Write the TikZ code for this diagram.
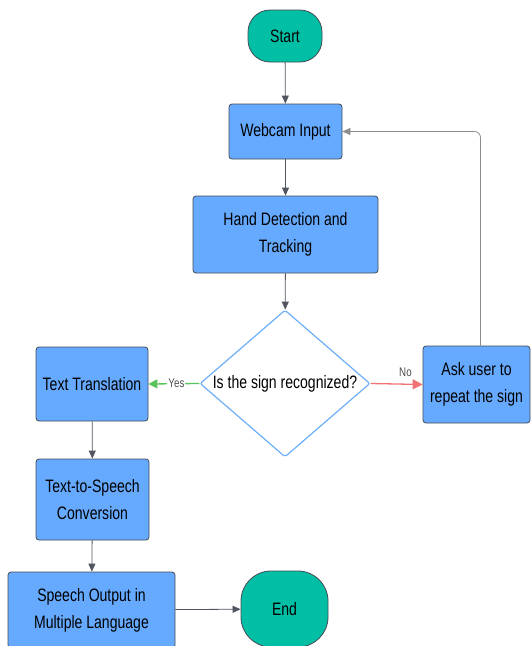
\documentclass[tikz,border=0pt]{standalone}
\usepackage{fontspec}
\setmainfont[FakeStretch=0.78]{Liberation Sans}
\usetikzlibrary{shapes.geometric,arrows.meta}
\definecolor{boxblue}{RGB}{102,170,255}
\definecolor{tealc}{RGB}{0,191,165}
\definecolor{dborder}{RGB}{70,75,85}
\definecolor{lblue}{RGB}{110,175,250}
\definecolor{ygreen}{RGB}{90,195,90}
\definecolor{nred}{RGB}{240,115,115}
\definecolor{conn}{RGB}{80,85,95}
\tikzset{
  x=1pt,y=-1pt,
  proc/.style={draw=dborder,fill=boxblue,rounded corners=3pt,line width=0.8pt,align=center,inner sep=0pt,font=\fontsize{18}{27}\selectfont},
  term/.style={draw=dborder,fill=tealc,rounded corners=22pt,line width=0.8pt,inner sep=0pt,font=\fontsize{18}{22}\selectfont},
  arr/.style={draw=conn,line width=0.8pt,-{Triangle[length=8pt,width=7pt]}},
  lbl/.style={font=\fontsize{12.5}{14}\selectfont,text=black!70}
}
\begin{document}
\begin{tikzpicture}
\useasboundingbox (0,0) rectangle (532,646);
\node[term,minimum width=74pt,minimum height=52pt] (start) at (285,36) {Start};
\node[proc,minimum width=113pt,minimum height=55pt] (web) at (285.5,131.5) {Webcam Input};
\node[proc,minimum width=185pt,minimum height=77pt] (hand) at (285.5,234.5) {Hand Detection and\\Tracking};
\node[draw=lblue,fill=white,line width=1.2pt,diamond,minimum width=170pt,minimum height=147pt,inner sep=0pt,rounded corners=2pt] (dec) at (285,383.5) {};
\node[font=\fontsize{18}{22}\selectfont] (dectext) at (dec.center) {Is the sign recognized?};
\node[proc,minimum width=112pt,minimum height=74pt] (tt) at (92,384) {Text Translation};
\node[proc,minimum width=107pt,minimum height=77pt] (ask) at (476.5,384.5) {Ask user to\\repeat the sign};
\node[proc,minimum width=113pt,minimum height=81pt] (tts) at (92.5,499.5) {Text-to-Speech\\Conversion};
\node[proc,minimum width=167pt,minimum height=76pt] (so) at (91.5,610) {Speech Output in\\Multiple Language};
\node[term,minimum width=87pt,minimum height=76pt,rounded corners=30pt] (end) at (284.5,609) {End};
\draw[arr] (start) -- (web);
\draw[arr] (web) -- (hand);
\draw[arr] (hand) -- (dec);
\draw[arr,draw=ygreen,-{Triangle[length=9pt,width=9pt]},line width=1.3pt] (dec.west) -- (tt.east) node[lbl,pos=0.45,fill=white,inner sep=1pt] {Yes};
\draw[arr,draw=nred,-{Triangle[length=10pt,width=10pt]},line width=1.3pt] (dec.east) -- (ask.west) node[lbl,pos=0.67,above=4pt] {No};
\draw[arr,draw=black!45,rounded corners=6pt] ([xshift=4pt]ask.north) |- (web.east);
\draw[arr] (tt) -- (tts);
\draw[arr] (tts) -- (so);
\draw[arr] (so) -- (end);
\end{tikzpicture}
\end{document}
